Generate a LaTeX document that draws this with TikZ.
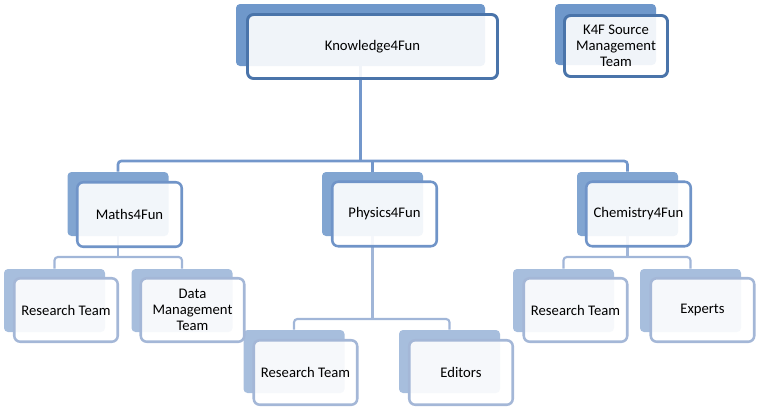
\documentclass[tikz,border=0pt]{standalone}
\usepackage{fontspec}
\setmainfont{Carlito}
\usepackage{xcolor}
\usetikzlibrary{positioning}
\definecolor{kBackA}{RGB}{111,152,203}
\definecolor{kLineA}{RGB}{74,116,170}
\definecolor{kBackB}{RGB}{129,165,209}
\definecolor{kLineB}{RGB}{112,148,200}
\definecolor{kBackC}{RGB}{167,190,221}
\definecolor{kLineC}{RGB}{164,183,215}
\definecolor{kLinkA}{RGB}{115,151,203}
\definecolor{kLinkB}{RGB}{161,182,216}

\begin{document}
\begin{tikzpicture}[
  x=0.75pt, y=-0.75pt,
  back/.style 2 args={rounded corners=3pt, inner sep=0pt, minimum width=#1*0.75pt, minimum height=#2*0.75pt},
  front/.style 2 args={fill=white, fill opacity=0.9, text opacity=1, rounded corners=4.5pt, inner sep=0pt, align=center,
    font=\fontsize{11}{12}\selectfont, minimum width=#1*0.75pt, minimum height=#2*0.75pt},
  linkA/.style={draw=kLinkA, line width=2pt, rounded corners=2.5pt},
  linkB/.style={draw=kLinkB, line width=1.6pt, rounded corners=2.5pt}
]
  \useasboundingbox (0,0) rectangle (757,408);
  % back plates
  \node[back={249}{62}, fill=kBackA] (topBack) at (360.5,35) {};
  \node[back={101}{61}, fill=kBackA] (srcBack) at (605.5,34.5) {};
  \node[back={101}{64}, fill=kBackB] (mathsBack) at (118,204) {};
  \node[back={101}{64}, fill=kBackB] (physBack) at (372.5,204) {};
  \node[back={101}{64}, fill=kBackB] (chemBack) at (627.5,204) {};
  \node[back={101}{63}, fill=kBackC] (mResBack) at (54.5,300.5) {};
  \node[back={101}{63}, fill=kBackC] (mDataBack) at (182,300.5) {};
  \node[back={101}{63}, fill=kBackC] (pResBack) at (294,361.5) {};
  \node[back={101}{63}, fill=kBackC] (pEdBack) at (449.5,361.5) {};
  \node[back={101}{63}, fill=kBackC] (cResBack) at (563.5,300.5) {};
  \node[back={101}{63}, fill=kBackC] (cExpBack) at (690.5,300.5) {};
  % connectors
  \coordinate (barA) at (0,161);
  \coordinate (barM) at (0,257);
  \coordinate (barP) at (0,319);
  \coordinate (barC) at (0,257);
  \draw[linkA] (topBack.south) -- (topBack.south |- barA);
  \draw[linkA] (mathsBack.north) -- (mathsBack.north |- barA) -| (chemBack.north);
  \draw[linkA] (physBack.north) -- (physBack.north |- barA);
  \draw[linkB] (mathsBack.south) -- (mathsBack.south |- barM);
  \draw[linkB] (mResBack.north) -- (mResBack.north |- barM) -| (mDataBack.north);
  \draw[linkB] (physBack.south) -- (physBack.south |- barP);
  \draw[linkB] (pResBack.north) -- (pResBack.north |- barP) -| (pEdBack.north);
  \draw[linkB] (chemBack.south) -- (chemBack.south |- barC);
  \draw[linkB] (cResBack.north) -- (cResBack.north |- barC) -| (cExpBack.north);
  % front boxes
  \node[front={250}{64}, draw=kLineA, line width=2.2pt] (top) at (372.5,46.5) {Knowledge4Fun};
  \node[front={103}{61}, draw=kLineA, line width=2.2pt] (src) at (616,46) {K4F Source\\Management\\Team};
  \node[front={104.5}{64.5}, draw=kLineB, line width=1.9pt] (maths) at (129.5,214.5) {Maths4Fun};
  \node[front={104.5}{64.5}, draw=kLineB, line width=1.9pt] (phys) at (384.5,214) {Physics4Fun};
  \node[front={104.5}{64.5}, draw=kLineB, line width=1.9pt] (chem) at (638.5,214) {Chemistry4Fun};
  \node[front={103.5}{63.5}, draw=kLineC, line width=1.9pt] (mRes) at (66,310) {Research Team};
  \node[front={103.5}{63.5}, draw=kLineC, line width=1.9pt] (mData) at (192.5,310) {Data\\Management\\Team};
  \node[front={103.5}{64.5}, draw=kLineC, line width=1.9pt] (pRes) at (305.5,372.5) {Research Team};
  \node[front={103.5}{64.5}, draw=kLineC, line width=1.9pt] (pEd) at (461,372.5) {Editors};
  \node[front={103.5}{63.5}, draw=kLineC, line width=1.9pt] (cRes) at (575.5,310) {Research Team};
  \node[front={103.5}{63.5}, draw=kLineC, line width=1.9pt] (cExp) at (702.5,310) {Experts};
\end{tikzpicture}
\end{document}
